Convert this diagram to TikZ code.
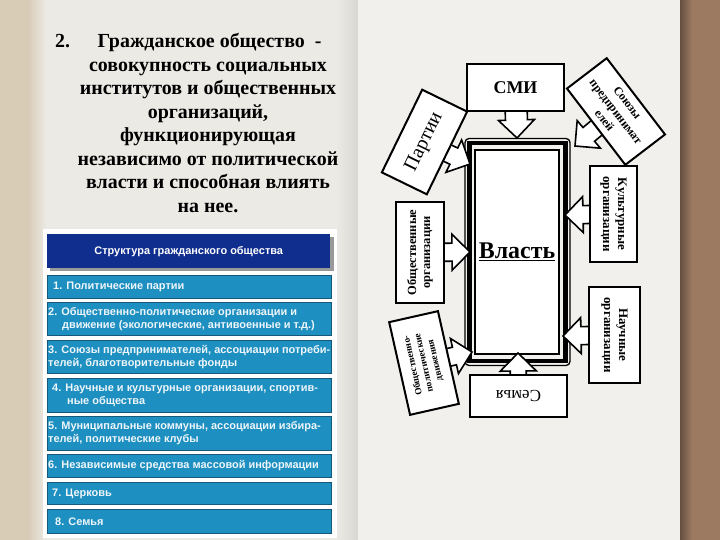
\documentclass[tikz,border=0pt]{standalone}
\usepackage{fontspec}
\setmainfont{Liberation Serif}
\setsansfont{Liberation Sans}
\usetikzlibrary{calc}

\definecolor{pageedge}{RGB}{216,204,182}
\definecolor{pageleft}{RGB}{236,234,228}
\definecolor{pageright}{RGB}{241,240,236}
\definecolor{bookbrown}{RGB}{156,122,98}
\definecolor{hdrblue}{RGB}{16,46,142}
\definecolor{rowblue}{RGB}{30,143,193}
\definecolor{rowline}{RGB}{22,88,122}
\definecolor{rowtext}{RGB}{238,246,250}

\tikzset{
  orgbox/.style={draw, line width=2bp, fill=white, inner sep=1bp, align=center,
    font=\bfseries\fontsize{13}{15}\selectfont},
  blockarrow/.style={draw, line width=1.6bp, fill=white, line join=miter},
  rowbox/.style={draw=rowline, line width=0.8bp, fill=rowblue, anchor=north west,
    minimum width=284bp, inner sep=0pt},
  rowtext/.style={anchor=west, align=left, inner sep=0pt, text=rowtext,
    font=\sffamily\bfseries\fontsize{11}{13}\selectfont},
  deftext/.style={anchor=base, inner sep=0pt, font=\bfseries\fontsize{20}{24}\selectfont},
}

% block arrow: #2 = start (inside a box), #3 = tip, #1 = half shaft width
\newcommand\blockarrow[3][9bp]{%
  \coordinate (ba-head) at ($(#3)!18bp!(#2)$);
  \draw[blockarrow]
    ($(#2)!#1!90:(#3)$) -- ($(ba-head)!#1!90:(#3)$) --
    ($(ba-head)!18bp!90:(#3)$) -- (#3) --
    ($(ba-head)!18bp!-90:(#3)$) -- ($(ba-head)!#1!-90:(#3)$) --
    ($(#2)!#1!-90:(#3)$) -- cycle;}

\begin{document}
\begin{tikzpicture}[x=1bp, y=-1bp]
    \useasboundingbox (0,0) rectangle (720,540);
    % book pages
    \fill[pageedge] (0,0) rectangle (36,540);
    \shade[left color=pageedge, right color=pageleft] (28,0) rectangle (46,540);
    \fill[pageleft] (46,0) rectangle (336,540);
    \shade[left color=pageleft, right color=pageleft!92!black] (336,0) rectangle (358,540);
    \fill[pageright] (358,0) rectangle (680,540);
    \shade[left color=bookbrown!65!black, right color=bookbrown] (680,0) rectangle (692,540);
    \fill[bookbrown] (692,0) rectangle (720,540);
    % definition
    \node[deftext, anchor=base west] (def-num) at (55,48) {2.};
    \node[deftext] (def-0) at (209.5,48) {Гражданское общество~~-};
    \foreach \txt [count=\i] in {совокупность социальных, институтов и общественных,
      {организаций,}, функционирующая, независимо от политической,
      власти и способная влиять, на нее.}
    \node[deftext] (def-\i) at (208,48+23.43*\i) {\txt};
    % table
    \fill[white] (43,229) rectangle (337,538);
    \fill[black!40] (50,237) rectangle (334,271);
    \node[fill=hdrblue, anchor=north west, minimum width=283bp, minimum height=34bp,
      text=white, font=\sffamily\bfseries\fontsize{11}{13}\selectfont]
      (table-head) at (47,234) {Структура гражданского общества};
    \foreach \top/\high/\txt [count=\r] in {
      275/23/{\hspace*{5bp}1. Политические партии},
      302/33/{2. Общественно-политические организации и\\\hspace*{14bp}движение (экологические, антивоенные и т.д.)},
      340/33/{3. Союзы предпринимателей, ассоциации потреби-\\телей, благотворительные фонды},
      378/34/{\hspace*{4bp}4. Научные и культурные организации, спортив-\\\hspace*{19bp}ные общества},
      416/34/{5. Муниципальные коммуны, ассоциации избира-\\телей, политические клубы},
      454/23/{6. Независимые средства массовой информации},
      482/22/{\hspace*{4bp}7. Церковь},
      509/24/{\hspace*{7bp}8. Семья}}
    {
    \node[rowbox, minimum height=\high bp] (row-\r) at (47,\top) {};
    \node[rowtext] (row-\r-text) at ([xshift=1bp]row-\r.west) {\txt};
    }
    % power frame
    \node[draw, line width=1.3bp, rounded corners=4bp, minimum width=105bp,
      minimum height=227bp] (power-frame) at (517.5,252) {};
    \draw[line width=4.5bp] ([shift={(5,5)}]power-frame.north west)
      rectangle ([shift={(-5,-5)}]power-frame.south east);
    \node[draw, line width=1.3bp, fill=white, minimum width=84bp, minimum height=204bp,
      font=\bfseries\fontsize{24}{26}\selectfont] (power) at (517,252) {\underline{Власть}};
    % box centres and arrow tips
    \coordinate (smi-pos)       at (515.5,88);
    \coordinate (parties-pos)   at (424.5,142);
    \coordinate (unions-pos)    at (616,111.5);
    \coordinate (culture-pos)   at (613.5,214);
    \coordinate (science-pos)   at (614.5,335);
    \coordinate (public-pos)    at (420,252.5);
    \coordinate (movements-pos) at (424,363);
    \coordinate (family-pos)    at (518.5,396);
    \coordinate (smi-tip)       at (517,138);
    \coordinate (parties-tip)   at (470,164);
    \coordinate (unions-tip)    at (575,146);
    \coordinate (culture-tip)   at (565,215);
    \coordinate (science-tip)   at (563,336);
    \coordinate (public-tip)    at (470,252);
    \coordinate (movements-tip) at (472,352);
    \coordinate (family-tip)    at (518,353);
    % arrows
    \blockarrow[11bp]{smi-pos}{smi-tip}
    \blockarrow{parties-pos}{parties-tip}
    \blockarrow{unions-pos}{unions-tip}
    \blockarrow{culture-pos}{culture-tip}
    \blockarrow{science-pos}{science-tip}
    \blockarrow{public-pos}{public-tip}
    \blockarrow{movements-pos}{movements-tip}
    \blockarrow[8bp]{family-pos}{family-tip}
    % boxes
    \node[orgbox, minimum width=97bp, minimum height=47bp,
      font=\bfseries\fontsize{18}{20}\selectfont] (smi) at (smi-pos) {СМИ};
    \node[orgbox, rotate=64, minimum width=92bp, minimum height=50bp,
      font=\fontsize{20}{22}\selectfont] (parties) at (parties-pos) {Партии};
    \node[orgbox, rotate=-52.6, minimum width=96bp, minimum height=50bp,
      font=\bfseries\fontsize{12}{14.5}\selectfont] (unions) at (unions-pos)
      {Союзы\\предпринимат\\елей};
    \node[orgbox, rotate=-90, minimum width=96bp, minimum height=47bp]
      (culture) at (culture-pos) {Культурные\\организации};
    \node[orgbox, rotate=-90, minimum width=96bp, minimum height=51bp]
      (science) at (science-pos) {Научные\\организации};
    \node[orgbox, rotate=90, minimum width=101bp, minimum height=48bp,
      font=\bfseries\fontsize{12.5}{14}\selectfont] (public) at (public-pos)
      {Общественные\\организации};
    \node[orgbox, rotate=102.7, minimum width=95bp, minimum height=50bp,
      font=\bfseries\fontsize{9.5}{11.5}\selectfont] (movements) at (movements-pos)
      {Общественно-\\политические\\движения};
    \node[orgbox, rotate=180, minimum width=97bp, minimum height=42bp,
      font=\fontsize{17}{19}\selectfont] (family) at (family-pos) {Семья};
\end{tikzpicture}
\end{document}
